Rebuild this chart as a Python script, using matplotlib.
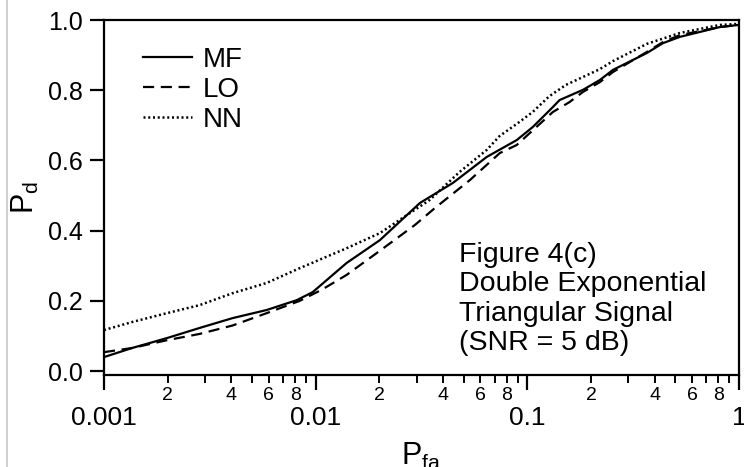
import matplotlib
matplotlib.use("Agg")
import matplotlib.pyplot as plt
from matplotlib.ticker import FixedLocator, FixedFormatter
from matplotlib.lines import Line2D

plt.rcParams['font.family'] = ['Liberation Sans', 'DejaVu Sans']

# ---- data ----
mf_x = [0.001, 0.00136, 0.00198, 0.00283, 0.00405, 0.00586, 0.00813, 0.00968, 0.0140,
        0.0201, 0.0311, 0.0445, 0.0643, 0.0891, 0.106, 0.132, 0.142, 0.183, 0.220,
        0.254, 0.367, 0.437, 0.526, 0.813, 1.0]
mf_y = [0.040, 0.066, 0.094, 0.123, 0.151, 0.174, 0.202, 0.225, 0.308,
        0.373, 0.479, 0.536, 0.610, 0.658, 0.695, 0.752, 0.772, 0.801, 0.829,
        0.858, 0.906, 0.934, 0.952, 0.980, 0.986]

lo_x = [0.001, 0.00136, 0.00198, 0.00283, 0.00405, 0.00586, 0.00839, 0.0107, 0.0140,
        0.0194, 0.0294, 0.0365, 0.0535, 0.0741, 0.0891, 0.132, 0.158, 0.183, 0.220,
        0.254, 0.367, 0.437, 0.526, 0.813, 1.0]
lo_y = [0.054, 0.066, 0.088, 0.106, 0.130, 0.165, 0.200, 0.232, 0.274,
        0.336, 0.416, 0.464, 0.544, 0.621, 0.644, 0.738, 0.766, 0.795, 0.823,
        0.852, 0.909, 0.937, 0.957, 0.980, 0.986]

nn_x = [0.001, 0.00136, 0.00198, 0.00283, 0.00405, 0.00586, 0.00839, 0.0140, 0.0201,
        0.0257, 0.0345, 0.0478, 0.0643, 0.0741, 0.0891, 0.106, 0.127, 0.152, 0.220,
        0.254, 0.367, 0.526, 0.813, 1.0]
nn_y = [0.117, 0.140, 0.165, 0.188, 0.222, 0.251, 0.293, 0.350, 0.393,
        0.436, 0.487, 0.567, 0.630, 0.670, 0.704, 0.738, 0.783, 0.815, 0.860,
        0.883, 0.932, 0.963, 0.986, 0.989]

series_labels = ["MF", "LO", "NN"]
y_ticks = [0.0, 0.2, 0.4, 0.6, 0.8, 1.0]
y_tick_labels = ["0.0", "0.2", "0.4", "0.6", "0.8", "1.0"]
x_major = [0.001, 0.01, 0.1, 1]
x_major_labels = ["0.001", "0.01", "0.1", "1"]
minor_digits = [2, 3, 4, 5, 6, 7, 8, 9]
minor_label_digits = [2, 4, 6, 8]
note_text = "Figure 4(c)\nDouble Exponential\nTriangular Signal\n(SNR = 5 dB)"

# ---- figure ----
fig = plt.figure(figsize=(7.44, 4.67), dpi=100)
W, H = 744, 467
ax = fig.add_axes([104 / W, (H - 375) / H, (739 - 104) / W, (375 - 20) / H])

lw = 1.6
ax.plot(mf_x, mf_y, color='black', lw=lw, ls='-', label=series_labels[0])
ax.plot(lo_x, lo_y, color='black', lw=lw, ls=(0, (5, 3)), label=series_labels[1])
ax.plot(nn_x, nn_y, color='black', lw=1.8, ls=(0, (0.8, 1.1)), label=series_labels[2])

ax.set_xscale('log')
ax.set_xlim(0.001, 1.0)
ax.set_ylim(-0.011, 1.0)

for s in ax.spines.values():
    s.set_linewidth(1.6)

ax.yaxis.set_major_locator(FixedLocator(y_ticks))
ax.yaxis.set_major_formatter(FixedFormatter(y_tick_labels))
ax.tick_params(axis='y', which='major', direction='out', length=10, width=1.6,
               pad=5, labelsize=18)

ax.xaxis.set_major_locator(FixedLocator(x_major))
ax.xaxis.set_major_formatter(FixedFormatter(x_major_labels))
ax.tick_params(axis='x', which='major', direction='out', length=11, width=1.6,
               pad=11, labelsize=19)

minor_pos = []
minor_lab = []
for dec in [0.001, 0.01, 0.1]:
    for d in minor_digits:
        minor_pos.append(dec * d)
        minor_lab.append(str(d) if d in minor_label_digits else "")
ax.xaxis.set_minor_locator(FixedLocator(minor_pos))
ax.xaxis.set_minor_formatter(FixedFormatter(minor_lab))
ax.tick_params(axis='x', which='minor', direction='out', length=6, width=1.4,
               pad=3, labelsize=14)
ax.tick_params(axis='y', which='minor', left=False)

ax.set_ylabel("P$_\\mathregular{d}$", fontsize=22, labelpad=5)
ax.set_xlabel("P$_\\mathregular{fa}$", fontsize=22, labelpad=8)

leg = ax.legend(loc='upper left', bbox_to_anchor=((143 - 104) / 635, (375 - 47) / 355),
                frameon=False, fontsize=20, handlelength=1.76, handletextpad=0.4,
                labelspacing=0.14, borderpad=0, borderaxespad=0)

ax.text((459 - 104) / 635, (375 - 242) / 355, note_text, transform=ax.transAxes,
        fontsize=20.5, ha='left', va='top', linespacing=1.17)

# scan edge line on the far left
fig.add_artist(Line2D([7 / W, 7 / W], [0, 1], transform=fig.transFigure,
                      color='#c8c8c8', lw=1.2))

fig.savefig("out.png", dpi=100)
